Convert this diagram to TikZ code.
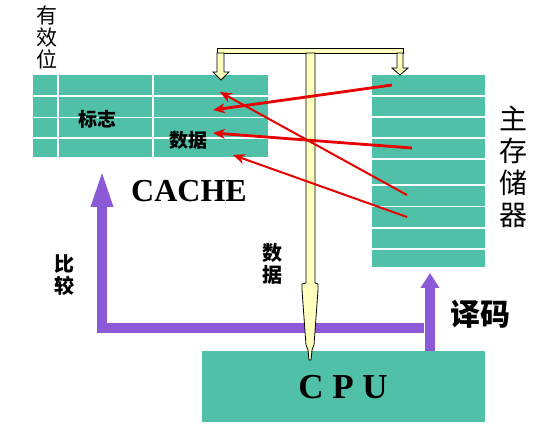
\documentclass[tikz,border=0pt]{standalone}
\usepackage{fontspec}
\setmainfont{Liberation Serif}
\newfontfamily\cjk{Noto Sans CJK SC}
\usetikzlibrary{arrows.meta}
\definecolor{cachegreen}{RGB}{80,192,168}
\definecolor{buspurple}{RGB}{140,90,215}
\definecolor{busyellow}{RGB}{255,255,190}
\definecolor{linkred}{RGB}{232,0,0}

\begin{document}
\begin{tikzpicture}[x=1pt, y=-1pt, >=Stealth]
    \tikzstyle{block} = [fill=cachegreen, inner sep=0pt, outer sep=0pt]
    \tikzstyle{rowgap} = [white, line width=1.6pt]
    \tikzstyle{han} = [font=\cjk\bfseries\fontsize{19}{22}\selectfont, inner sep=0pt,
	align=center]
    \tikzstyle{hanbig} = [font=\cjk\fontsize{28}{32}\selectfont, inner sep=0pt,
	align=center]
    \tikzstyle{latin} = [font=\bfseries\fontsize{32}{32}\selectfont, inner sep=0pt]
    \tikzstyle{bus} = [draw=black, line width=0.8pt, fill=busyellow,
	line join=miter]
    \tikzstyle{ctrl} = [buspurple, line width=10pt, line join=miter]
    \tikzstyle{load} = [linkred, line width=2.8pt, -{Stealth[length=12pt,width=10pt]}]

	\useasboundingbox[fill=white] (0,0) rectangle (542,435);

	% blocks
	\node[block, minimum width=235pt, minimum height=82pt] (cache) at (150.5,116) {};
	\node[block, minimum width=113pt, minimum height=192pt] (memory) at (428.5,171) {};
	\node[block, minimum width=283pt, minimum height=71pt] (cpu) at (343.5,386.5) {};

	\foreach \y in {96,117.5,138}
		\draw[rowgap] (33,\y) -- (268,\y);
	\foreach \x in {58,153}
		\draw[rowgap] (\x,75) -- (\x,157);
	\foreach \y in {96,117,138,159,185,206.5,228,249}
		\draw[rowgap] (372,\y) -- (485,\y);

	% compare / decode
	\coordinate (dec) at (430,351);
	\coordinate (memin) at (430,273);
	\coordinate (split) at (424,328);
	\coordinate (turn) at (102,328);
	\coordinate (cachein) at (102,167);
	\draw[ctrl, -{Triangle[length=15pt,width=18pt]}] (dec) -- (memin);
	\draw[ctrl, -{Triangle[length=40pt,width=19pt]}] (split) -- (turn) -- (cachein);

	% data bus
	\draw[bus] (217,48) rectangle (403,53);
	\draw[bus] (217,53) -- (224,53) -- (224,72) -- (229,72) -- (221,80)
		-- (213,72) -- (217,72) -- cycle;
	\draw[bus] (397,53) -- (403,53) -- (403,68) -- (408,68) -- (400,75)
		-- (392,68) -- (397,68) -- cycle;
	\draw[bus] (306,53) -- (315,53) -- (315,283) -- (318,284) -- (318,290)
		-- (314,345) -- (312,350) -- (311,360) -- (309,360) -- (308,350)
		-- (306,345) -- (302,290) -- (302,284) -- (306,283) -- cycle;

	% lines from memory to cache
	\path
		coordinate (mrow1) at (392,85)
		coordinate (mrow4) at (412,148)
		coordinate (mrow6) at (407,195)
		coordinate (mrow7) at (407,217)
		coordinate (crow1) at (220,92)
		coordinate (crow2) at (213,110)
		coordinate (crow3) at (213,133)
		coordinate (crow4) at (233,155)

		(mrow1) edge[load] (crow2)
		(mrow4) edge[load] (crow3)
		(mrow6) edge[load, line width=2pt] (crow1)
		(mrow7) edge[load, line width=2pt] (crow4)
	;

	% labels
	\node[hanbig, font=\cjk\fontsize{21}{22}\selectfont] (valid) at (47,38) {有\\效\\位};
	\node[han] (tag) at (97,119) {标志};
	\node[han] (cdata) at (188,140) {数据};
	\node[latin] (cachelabel) at (189,191) {CACHE};
	\node[hanbig] (memlabel) at (513,167) {主\\存\\储\\器};
	\node[han, font=\cjk\bfseries\fontsize{20}{22}\selectfont] (busdata) at (272,264) {数\\据};
	\node[han, font=\cjk\bfseries\fontsize{20}{22}\selectfont] (cmp) at (65,275) {比\\较};
	\node[han, font=\cjk\bfseries\fontsize{30}{32}\selectfont] (decode) at (480,314) {译码};
	\node[latin, font=\bfseries\fontsize{35}{35}\selectfont] (cpulabel) at (343,387) {C P U};
\end{tikzpicture}
\end{document}
